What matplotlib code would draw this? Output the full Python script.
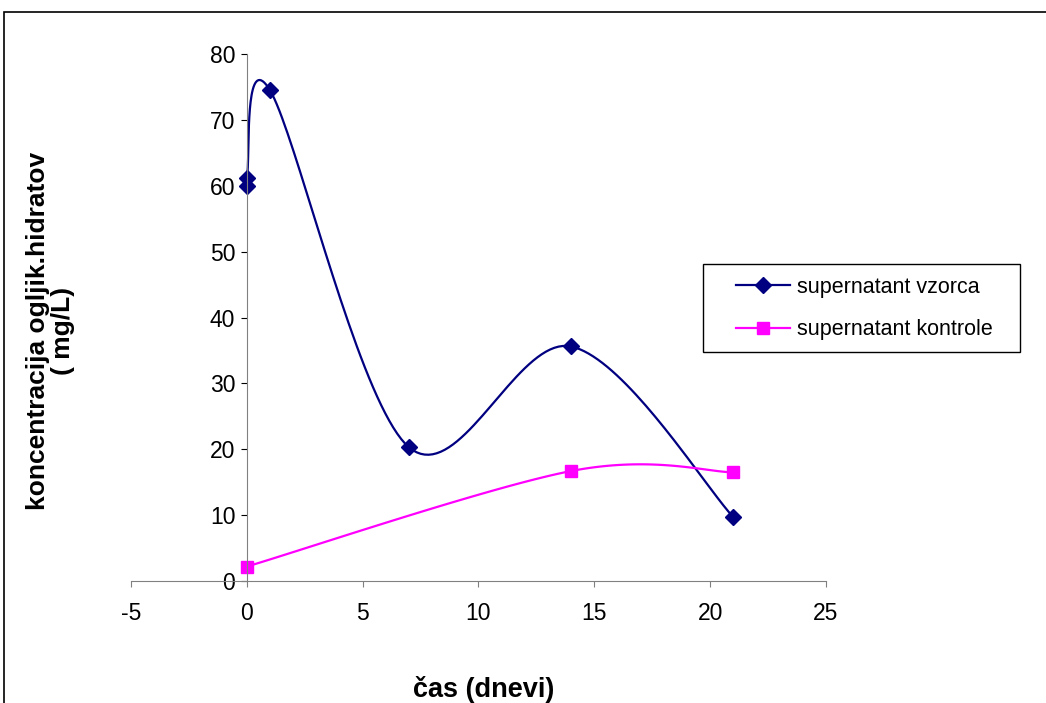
import numpy as np
import matplotlib
matplotlib.use('Agg')
import matplotlib.pyplot as plt
from matplotlib.patches import Rectangle

plt.rcParams['font.family'] = ['Liberation Sans', 'DejaVu Sans']
plt.rcParams['axes.unicode_minus'] = False

# podatki
cas_vzorca = [0, 0, 1, 7, 14, 21]
konc_vzorca = [60.0, 61.2, 74.5, 20.3, 35.6, 9.7]
cas_kontrole = [0, 14, 21]
konc_kontrole = [2.2, 16.7, 16.5]


def gladko(x, y, n=40):
    # glajenje kot v Excelu (Catmull-Rom / Bezier)
    P = np.column_stack([np.asarray(x, float), np.asarray(y, float)])
    out = [P[0]]
    for i in range(len(P) - 1):
        p0 = P[i - 1] if i > 0 else P[i]
        p1 = P[i]
        p2 = P[i + 1]
        p3 = P[i + 2] if i + 2 < len(P) else P[i + 1]
        c1 = p1 + (p2 - p0) / 6
        c2 = p2 - (p3 - p1) / 6
        t = np.linspace(0, 1, n)[1:, None]
        seg = (1 - t) ** 3 * p1 + 3 * (1 - t) ** 2 * t * c1 + 3 * (1 - t) * t ** 2 * c2 + t ** 3 * p2
        out.extend(seg)
    out = np.array(out)
    return out[:, 0], out[:, 1]


fig = plt.figure(figsize=(10.46, 7.03), dpi=100)
ax = fig.add_axes([0.1252, 0.1735, 0.6645, 0.7497])

xs, ys = gladko(cas_vzorca, konc_vzorca)
ax.plot(xs, ys, color='#000080', lw=1.6)
ax.plot(cas_vzorca, konc_vzorca, ls='none', marker='D', ms=8, color='#000080')
ax.plot([], [], color='#000080', lw=1.6, marker='D', ms=8, label='supernatant vzorca')

xs, ys = gladko(cas_kontrole, konc_kontrole)
ax.plot(xs, ys, color='#FF00FF', lw=1.6)
ax.plot(cas_kontrole, konc_kontrole, ls='none', marker='s', ms=8, color='#FF00FF')
ax.plot([], [], color='#FF00FF', lw=1.6, marker='s', ms=8, label='supernatant kontrole')

ax.set_xlim(-5, 25)
ax.set_ylim(0, 80)
ax.set_xticks(range(-5, 26, 5))
ax.set_yticks(range(0, 81, 10))

ax.spines['top'].set_visible(False)
ax.spines['right'].set_visible(False)
ax.spines['left'].set_position(('data', 0))
ax.spines['left'].set_color('#808080')
ax.spines['bottom'].set_color('#808080')
ax.tick_params(axis='both', direction='out', length=4.3, labelsize=16.5)
ax.tick_params(axis='y', color='#000000', pad=4)
ax.tick_params(axis='x', color='#808080', pad=11)

ax.set_xlabel('čas (dnevi)', fontsize=19.5, fontweight='bold')
ax.xaxis.set_label_coords(0.508, -0.18)
ax.set_ylabel('koncentracija ogljik.hidratov\n( mg/L)', fontsize=19, fontweight='bold',
              linespacing=1.05)
ax.yaxis.set_label_coords(-0.08, 0.474)

# legenda z okvirjem
fig.patches.append(Rectangle((703 / 1046, 1 - 352 / 703), 317 / 1046, 88 / 703,
                             transform=fig.transFigure, fill=False,
                             edgecolor='#000000', lw=1.0))
leg = fig.legend(loc='center left', bbox_to_anchor=(725 / 1046, 1 - 308.5 / 703), fontsize=15.5,
                 frameon=False, borderpad=0, labelspacing=1.0, handlelength=2.5,
                 handletextpad=0.35)

# okvir slike
fig.patches.append(Rectangle((0.0038, -0.05), 1.2, 1.033, transform=fig.transFigure,
                             fill=False, edgecolor='#000000', lw=1.2))

fig.savefig('out.png', dpi=100)
